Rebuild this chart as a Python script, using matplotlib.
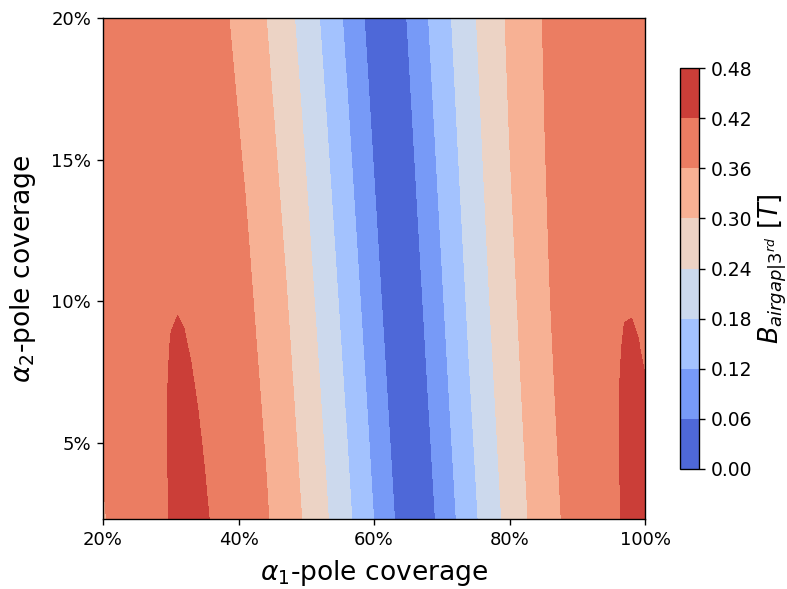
"""Mapa de contorno del 3er armonico de B en el entrehierro"""

import numpy as np
import matplotlib
matplotlib.use("Agg")
import matplotlib.pyplot as plt
from matplotlib.ticker import PercentFormatter

# ======================================================
# DATOS
# ======================================================
# alpha1: cobertura del polo 1 [%], alpha2: cobertura del polo 2 [%]
alpha1 = [20, 22, 25, 28, 29, 30, 31, 32, 33, 34, 35, 36, 38, 41, 44, 47, 50, 53, 56,
          59, 62, 65, 68, 71, 74, 77, 80, 83, 86, 89, 92, 94, 95, 96, 97, 98, 99, 100]
alpha2 = [2.3, 5, 7, 8.3, 9, 9.6, 12, 16, 20]

# B_airgap 3er armonico en mT, una fila por cada valor de alpha2
b3_a2_2_3 = [356.1, 371.7, 396.8, 414.0, 417.9, 420.9, 423.0, 424.1, 424.3, 423.5, 421.8, 419.1, 411.1,
             392.2, 365.5, 331.5, 290.9, 244.5, 193.2, 138.1, 80.2, 20.7, 39.2, 98.3, 155.4, 209.5,
             259.4, 304.1, 342.7, 374.5, 398.9, 410.7, 415.3, 418.9, 421.6, 423.4, 424.2, 424.1]
b3_a2_5 = [363.1, 376.8, 400.2, 415.5, 418.8, 421.2, 422.6, 423.1, 422.7, 421.3, 419.0, 415.7, 406.5,
           385.9, 357.6, 322.2, 280.3, 232.9, 180.8, 125.1, 67.0, 7.5, 52.2, 110.8, 167.2, 220.3,
           269.0, 312.3, 349.4, 379.5, 402.1, 412.7, 416.6, 419.6, 421.7, 422.9, 423.1, 422.4]
b3_a2_7 = [367.2, 380.1, 402.1, 416.1, 418.9, 420.8, 421.8, 421.8, 420.9, 419.1, 416.3, 412.6, 402.5,
           380.7, 351.3, 314.8, 272.2, 224.0, 171.5, 115.5, 57.2, 2.3, 61.7, 119.8, 175.6, 227.9,
           275.6, 317.9, 353.8, 382.6, 403.9, 413.6, 417.0, 419.6, 421.2, 421.9, 421.6, 420.5]
b3_a2_8_3 = [369.6, 381.9, 403.1, 416.2, 418.7, 420.3, 421.0, 420.7, 419.5, 417.4, 414.3, 410.3, 399.7,
             377.1, 346.9, 309.9, 266.7, 218.2, 165.3, 109.1, 50.8, 8.6, 67.8, 125.6, 181.0, 232.7,
             279.8, 321.3, 356.4, 384.4, 404.7, 413.8, 417.0, 419.3, 420.6, 421.0, 420.4, 418.9]
b3_a2_9 = [370.8, 382.8, 403.5, 416.1, 418.5, 419.9, 420.4, 420.0, 418.6, 416.4, 413.1, 409.0, 398.1,
           375.0, 344.6, 307.2, 263.7, 215.0, 161.9, 105.7, 47.3, 12.0, 71.0, 128.7, 183.8, 235.2,
           281.9, 323.0, 357.7, 385.3, 405.1, 413.9, 416.9, 419.0, 420.2, 420.4, 419.7, 418.0]
b3_a2_9_6 = [371.8, 383.6, 403.8, 416.0, 418.2, 419.5, 419.9, 419.3, 417.9, 415.4, 412.1, 407.8, 396.6,
             373.3, 342.5, 304.8, 261.1, 212.2, 159.1, 102.7, 44.4, 14.9, 73.8, 131.3, 186.2, 237.3,
             283.7, 324.5, 358.8, 385.9, 405.4, 413.9, 416.8, 418.7, 419.7, 419.8, 419.0, 417.2]
b3_a2_12 = [375.3, 386.0, 404.6, 415.2, 416.8, 417.6, 417.4, 416.3, 414.3, 411.3, 407.5, 402.7, 390.5,
            365.8, 333.8, 295.1, 250.5, 201.0, 147.4, 90.9, 32.6, 26.3, 84.8, 141.5, 195.4, 245.5,
            290.6, 330.0, 362.7, 388.3, 406.1, 413.4, 415.8, 417.2, 417.6, 417.2, 415.8, 413.5]
b3_a2_16 = [379.7, 388.5, 404.3, 412.1, 412.8, 412.7, 411.6, 409.6, 406.7, 402.9, 398.3, 392.7, 378.9,
            352.1, 318.2, 278.0, 232.2, 181.8, 127.8, 71.2, 13.2, 45.0, 102.4, 157.7, 209.9, 257.8,
            300.7, 337.5, 367.7, 390.5, 405.5, 411.0, 412.4, 412.9, 412.5, 411.1, 408.9, 405.7]
b3_a2_20 = [381.9, 388.9, 401.9, 406.9, 406.8, 405.8, 403.8, 401.0, 397.3, 392.7, 387.2, 380.9, 365.7,
            336.9, 301.3, 259.8, 213.1, 162.1, 108.0, 51.6, 5.8, 63.0, 119.0, 172.6, 222.8, 268.6,
            309.0, 343.2, 370.6, 390.6, 402.8, 406.5, 407.0, 406.6, 405.3, 403.1, 400.0, 396.0]

niveles = [0.00, 0.06, 0.12, 0.18, 0.24, 0.30, 0.36, 0.42, 0.48]
ticks_x = [20, 40, 60, 80, 100]
ticks_y = [5, 10, 15, 20]

# ======================================================
# GRAFICO
# ======================================================
b3 = np.array([b3_a2_2_3, b3_a2_5, b3_a2_7, b3_a2_8_3, b3_a2_9,
               b3_a2_9_6, b3_a2_12, b3_a2_16, b3_a2_20]) / 1000.0  # mT -> T

fig = plt.figure(figsize=(787 / 123, 589 / 123), dpi=123)
ax = fig.add_axes([103 / 787, 1 - 519 / 589, 542 / 787, 501 / 589])

cs = ax.contourf(alpha1, alpha2, b3, levels=niveles, cmap="coolwarm")
ax.set_xlim(alpha1[0], alpha1[-1])
ax.set_ylim(alpha2[0], alpha2[-1])
ax.set_xticks(ticks_x)
ax.set_yticks(ticks_y)
ax.xaxis.set_major_formatter(PercentFormatter(xmax=100, decimals=0))
ax.yaxis.set_major_formatter(PercentFormatter(xmax=100, decimals=0))
ax.tick_params(labelsize=10.5)
ax.set_xlabel(r"$\alpha_1$-pole coverage", fontsize=15.5, labelpad=5)
ax.set_ylabel(r"$\alpha_2$-pole coverage", fontsize=15.5, labelpad=7.5)

# barra de color
cax = fig.add_axes([680 / 787, 1 - 469 / 589, 19 / 787, 401 / 589])
cb = fig.colorbar(cs, cax=cax)
cb.ax.tick_params(labelsize=11)
cb.set_label(r"$B_{airgap|3^{rd}}\ [T]$", fontsize=15, labelpad=2)

fig.savefig("out.png", dpi=123)
plt.close(fig)
